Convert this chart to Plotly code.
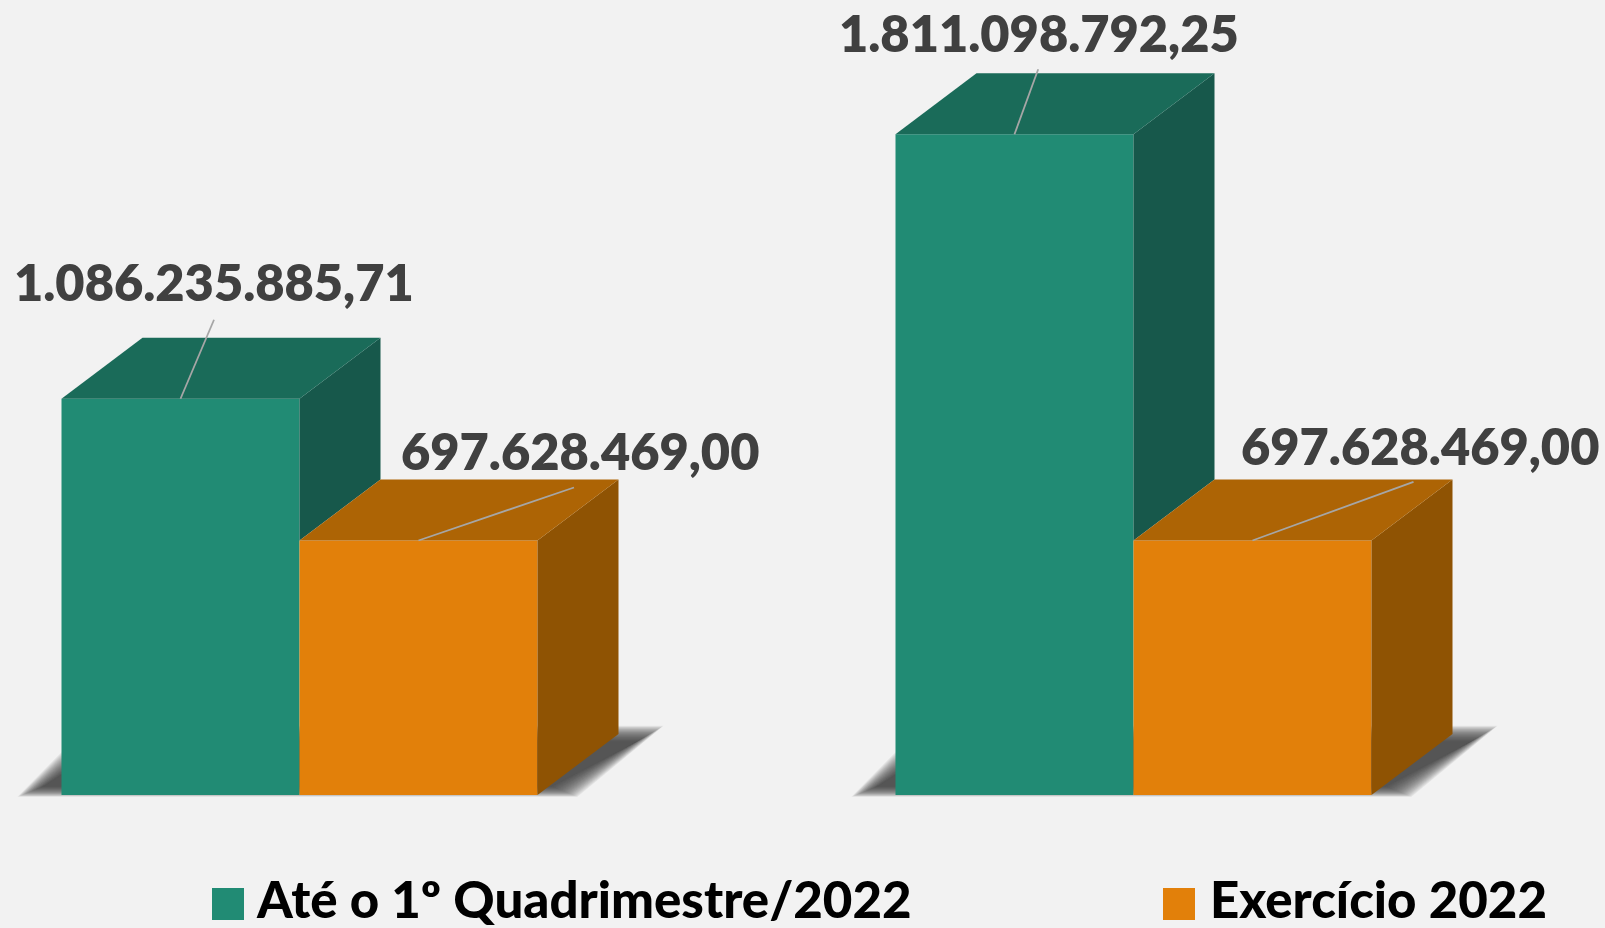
import plotly.graph_objects as go

# --- data ---
periods = [0, 1]
series_names = ["Até o 1º Quadrimestre/2022", "Exercício 2022"]
ate_quadrimestre = [1086235885.71, 1811098792.25]
exercicio = [697628469.00, 697628469.00]
labels_ate = ["1.086.235.885,71", "1.811.098.792,25"]
labels_ex = ["697.628.469,00", "697.628.469,00"]

# --- scale / look ---
W, H = 1605, 928
BASE_PX, ZERO_PX, UNIT_PX = 795, 299.5, 834
PX_PER_VAL = 0.3648e-6
BAR_W = 238 / UNIT_PX
DX, DY = 81 / UNIT_PX, 61 / PX_PER_VAL
BG = "#F2F2F2"
GREEN = dict(front="#218B74", top="#1A6B59", side="#17584B")
ORANGE = dict(front="#E2800A", top="#AD6405", side="#8F5303")
FONT = "Lato"
LABEL_SIZE = 50.5
LEGEND_SIZE = 51


def px(v):
    return v / UNIT_PX


def py(v):
    return v / PX_PER_VAL


fig = go.Figure()


def add_bar(offset, values, colors, name):
    fig.add_trace(go.Bar(x=periods, y=values, width=BAR_W, offset=offset, marker=dict(color=colors["front"], line_width=0),
                         name=name, showlegend=False, hoverinfo="skip"))


def add_faces(values, floors, left_off, colors):
    for p, v, f in zip(periods, values, floors):
        l, r = p + left_off, p + left_off + BAR_W
        fig.add_trace(go.Scatter(x=[r, r + DX, r + DX, r, r], y=[f, f + DY, v + DY, v, f], mode="lines", fill="toself",
                                 fillcolor=colors["side"], line=dict(width=0), showlegend=False, hoverinfo="skip"))
        fig.add_trace(go.Scatter(x=[l, r, r + DX, l + DX, l], y=[v, v, v + DY, v + DY, v], mode="lines", fill="toself",
                                 fillcolor=colors["top"], line=dict(width=0), showlegend=False, hoverinfo="skip"))


add_bar(-BAR_W, ate_quadrimestre, GREEN, series_names[0])
add_bar(0, exercicio, ORANGE, series_names[1])
# the green side starts at the orange top: below that it is hidden by the orange block
add_faces(ate_quadrimestre, exercicio, -BAR_W, GREEN)
add_faces(exercicio, [0, 0], 0, ORANGE)

# leader lines and labels: offsets from the top-centre of each front face, in pixels
leaders_ate = [(33.5, 79), (23.7, 65)]
leaders_ex = [(155.5, 53), (161, 58.7)]
shift_ate = [(33.5, 117), (24, 102)]
shift_ex = [(161.5, 90), (167.5, 95)]
annotations = []
for vals, txts, lead, shift, c in [
    (ate_quadrimestre, labels_ate, leaders_ate, shift_ate, -BAR_W / 2),
    (exercicio, labels_ex, leaders_ex, shift_ex, BAR_W / 2),
]:
    for p, v, t, (lx, ly), (sx, sy) in zip(periods, vals, txts, lead, shift):
        fig.add_trace(go.Scatter(x=[p + c, p + c + px(lx)], y=[v, v + py(ly)], mode="lines",
                                 line=dict(color="#A6A6A6", width=1.8), showlegend=False, hoverinfo="skip"))
        annotations.append(dict(x=p + c, y=v, xref="x", yref="y", text=t, showarrow=False,
                                xshift=sx, yshift=sy, xanchor="center", yanchor="middle",
                                font=dict(family=FONT, size=LABEL_SIZE, color="#404040", weight=800)))

# soft floor shadow: stacked translucent parallelograms
shapes = []
LAYERS = 26
for p in periods:
    for i in range(LAYERS):
        g = 12 - 26 * i / (LAYERS - 1)
        x0 = p - px(270) - px(g)
        x1 = p + px(266) + px(g)
        x2 = p + px(352) + px(g)
        x3 = p - px(200) - px(g)
        y0 = py(3) - py(g * 0.4)
        y1 = py(62 + g * 0.6)
        path = f"M {x0} {y0} L {x1} {y0} L {x2} {y1} L {x3} {y1} Z"
        shapes.append(dict(type="path", path=path, xref="x", yref="y", layer="below",
                           fillcolor="rgba(60,60,60,0.065)", line_width=0))

# legend, drawn by hand because the swatches are far larger than Plotly's own
legend_items = [(212, 254, series_names[0], GREEN["front"]), (1163, 1208, series_names[1], ORANGE["front"])]
for sx, tx, name, col in legend_items:
    shapes.append(dict(type="rect", xref="paper", yref="paper", x0=sx / W, x1=(sx + 32) / W,
                       y0=1 - 920 / H, y1=1 - 888 / H, fillcolor=col, line_width=0))
    annotations.append(dict(x=tx / W, y=1 - 898 / H, xref="paper", yref="paper", text=name, showarrow=False,
                            xanchor="left", yanchor="middle",
                            font=dict(family=FONT, size=LEGEND_SIZE, color="#000000", weight=900)))

fig.update_layout(
    width=W, height=H, margin=dict(l=0, r=0, t=0, b=0), autosize=False,
    paper_bgcolor=BG, plot_bgcolor=BG, showlegend=False, barmode="overlay",
    xaxis=dict(visible=False, range=[-ZERO_PX / UNIT_PX, (W - ZERO_PX) / UNIT_PX]),
    yaxis=dict(visible=False, range=[py(BASE_PX - H), py(BASE_PX)]),
    shapes=shapes, annotations=annotations,
)
fig.write_html("out.html", config={"displayModeBar": False},
               post_script=f"document.body.style.margin='0';document.body.style.overflow='hidden';document.body.style.background='{BG}';")
